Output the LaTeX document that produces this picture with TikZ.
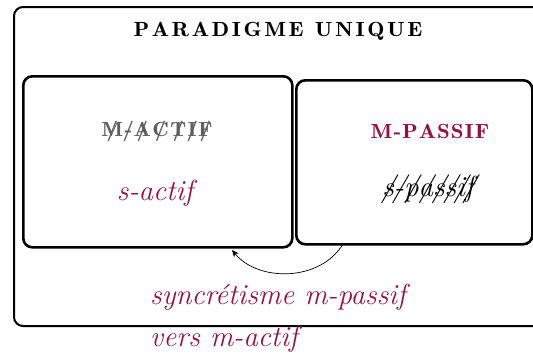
\documentclass[tikz,border=0pt]{standalone}
\usepackage{fontspec}
\usetikzlibrary{arrows.meta}
\newfontfamily\capsfont[FakeStretch=1.12]{lmromandemi10-regular.otf}
\definecolor{crim}{RGB}{150,16,68}
\definecolor{grayt}{RGB}{95,95,95}
\newcommand\xch[1]{\ooalign{#1\cr\hidewidth/\hidewidth\cr}}
\newcommand\spcgap{2.6pt}
\def\spc#1{\spcloop#1\relax}
\def\spcloop#1#2{#1\ifx#2\relax\else\kern\spcgap\expandafter\spcloop\expandafter#2\fi}
\tikzset{
  box/.style={draw, line width=2.6pt, rounded corners=9pt, inner sep=0pt},
  outer/.style={draw, line width=2pt, rounded corners=9pt, inner sep=0pt},
  capt/.style={font=\fontsize{20.5}{25}\capsfont},
  ital/.style={font=\fontsize{29}{42}\selectfont\itshape},
}
\begin{document}
\begin{tikzpicture}[x=1pt,y=-1pt]
\useasboundingbox (0,0) rectangle (533,356);
\clip (0,0) rectangle (533,356);
\node[outer, minimum width=534pt, minimum height=319pt, anchor=north west] (para) at (13,6) {};
\node[box, minimum width=269pt, minimum height=171pt, anchor=north west] (actif) at (22,75) {};
\node[box, minimum width=236pt, minimum height=164pt, anchor=north west] (passif) at (295,79) {};
\node[capt] (title) at (278,31) {\spc{PARADIGME}\hspace{11pt}\spc{UNIQUE}};
\node[capt, text=grayt] (mactif) at (157,132) {\xch{M}\kern1.4pt\xch{-}\kern1.4pt\xch{A}\kern1.4pt\xch{C}\kern1.4pt\xch{T}\kern1.4pt\xch{I}\kern1.4pt\xch{F}};
\node[ital, text=crim] (sactif) at (155,193) {s-actif};
\node[capt, text=crim] (mpassif) at (430,131) {\renewcommand\spcgap{1pt}\spc{M-PASSIF}};
\node[ital] (spassif) at (428,190) {\xch{s}\xch{-}\xch{p}\xch{a}\xch{s}\xch{s}\xch{i}\xch{f}};
\node[ital, text=crim, align=left, anchor=north west, inner sep=0pt] (sync) at (150,284) {syncrétisme m-passif\\vers m-actif};
\coordinate (from) at (343,244);
\coordinate (to) at (232,250);
\draw[-{Stealth[length=7pt,width=6pt]}, line width=0.7pt] (from) .. controls (320,282) and (258,282) .. (to);
\end{tikzpicture}
\end{document}
